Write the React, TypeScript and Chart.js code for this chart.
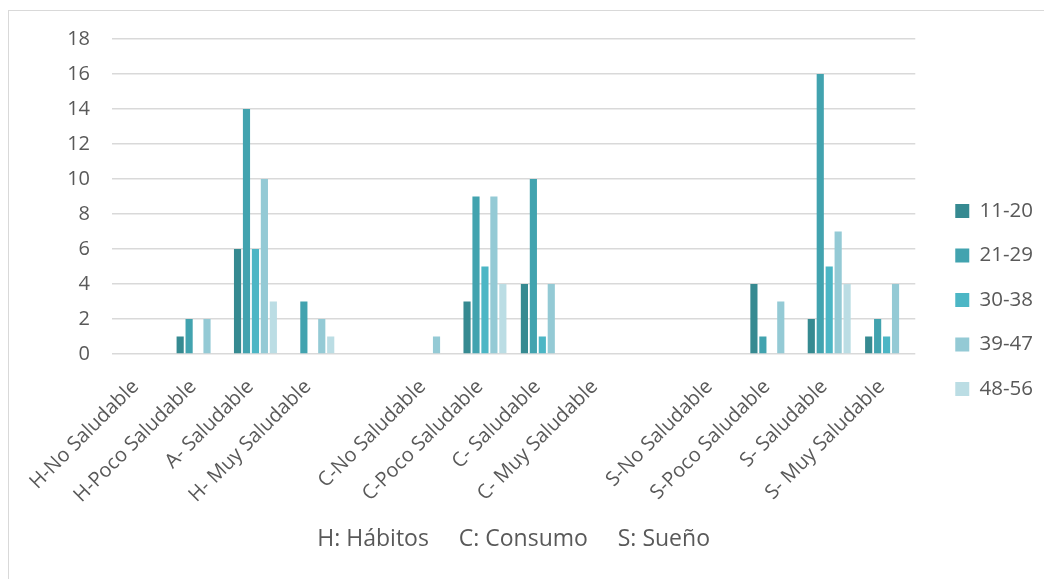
import React, { useEffect, useRef } from "react";
import { Chart, registerables } from "chart.js";

Chart.register(...registerables);

const categories = [
  "H-No Saludable",
  "H-Poco Saludable",
  "A- Saludable",
  "H- Muy Saludable",
  "",
  "C-No Saludable",
  "C-Poco Saludable",
  "C- Saludable",
  "C- Muy Saludable",
  "",
  "S-No Saludable",
  "S-Poco Saludable",
  "S- Saludable",
  "S- Muy Saludable",
];

const seriesNames = ["11-20", "21-29", "30-38", "39-47", "48-56"];
const s11_20 = [0, 1, 6, 0, null, 0, 3, 4, 0, null, 0, 4, 2, 1];
const s21_29 = [0, 2, 14, 3, null, 0, 9, 10, 0, null, 0, 1, 16, 2];
const s30_38 = [0, 0, 6, 0, null, 0, 5, 1, 0, null, 0, 0, 5, 1];
const s39_47 = [0, 2, 10, 2, null, 1, 9, 4, 0, null, 0, 3, 7, 4];
const s48_56 = [0, 0, 3, 1, null, 0, 4, 0, 0, null, 0, 0, 4, 0];
const seriesColors = ["#368A91", "#42A3AF", "#4CB6C5", "#94CAD5", "#BBDDE4"];
const yTicks = [0, 2, 4, 6, 8, 10, 12, 14, 16, 18];
const axisTitle = "H: Hábitos     C: Consumo     S: Sueño";

const legendPlacement = {
  id: "legendPlacement",
  afterInit(chart: any) {
    const lg = chart.legend;
    if (!lg) return;
    const orig = lg.fit.bind(lg);
    lg.fit = () => {
      orig();
      lg.width += 17;
    };
  },
  afterLayout(chart: any) {
    const lg = chart.legend;
    if (!lg) return;
    lg.left += 16;
    lg.top += 5;
    lg.bottom += 5;
  },
};

export default function App() {
  const ref = useRef<HTMLCanvasElement | null>(null);

  useEffect(() => {
    if (!ref.current) return;
    const all = [s11_20, s21_29, s30_38, s39_47, s48_56];
    const font = "'Open Sans', 'Noto Sans', sans-serif";
    const chart = new Chart(ref.current, {
      type: "bar",
      data: {
        labels: categories,
        datasets: all.map((d, i) => ({
          label: seriesNames[i],
          data: d,
          backgroundColor: seriesColors[i],
          borderWidth: 0,
          categoryPercentage: 0.78,
          barPercentage: 0.8,
        })),
      },
      plugins: [legendPlacement],
      options: {
        animation: false,
        responsive: false,
        maintainAspectRatio: false,
        layout: { padding: { top: 0, right: 0, left: 0, bottom: 0 } },
        plugins: {
          tooltip: { enabled: false },
          legend: {
            position: "right",
            labels: {
              boxWidth: 14,
              boxHeight: 14,
              padding: 24,
              color: "#595959",
              font: { family: font, size: 20.5 },
            },
          },
        },
        scales: {
          x: {
            grid: { display: false },
            border: { display: false },
            ticks: {
              autoSkip: false,
              minRotation: 45,
              maxRotation: 45,
              color: "#595959",
              font: { family: font, size: 20 },
              padding: 13,
              labelOffset: -5,
            },
            title: {
              display: true,
              text: axisTitle,
              color: "#595959",
              font: { family: font, size: 23 },
              padding: { top: 8, bottom: 26 },
            },
            afterFit: (s: any) => {
              s.height = 225;
            },
          },
          y: {
            min: 0,
            max: 18,
            afterBuildTicks: (s: any) => {
              s.ticks = yTicks.map((v) => ({ value: v }));
            },
            grid: { color: "#d9d9d9", lineWidth: 1.5, drawTicks: false },
            border: { display: false },
            ticks: {
              color: "#595959",
              font: { family: font, size: 20 },
              padding: 22,
            },
            afterFit: (s: any) => {
              s.width = 103;
              s.paddingTop = 28;
              s.paddingBottom = 0;
            },
          },
        },
      },
    });
    return () => chart.destroy();
  }, []);

  return (
    <div
      style={{
        position: "fixed",
        left: 8,
        top: 10,
        right: 0,
        bottom: 0,
        borderLeft: "1px solid #d9d9d9",
        borderTop: "1px solid #d9d9d9",
        background: "#fff",
      }}
    >
      <canvas ref={ref} width={1035} height={568} style={{ display: "block" }} />
    </div>
  );
}
